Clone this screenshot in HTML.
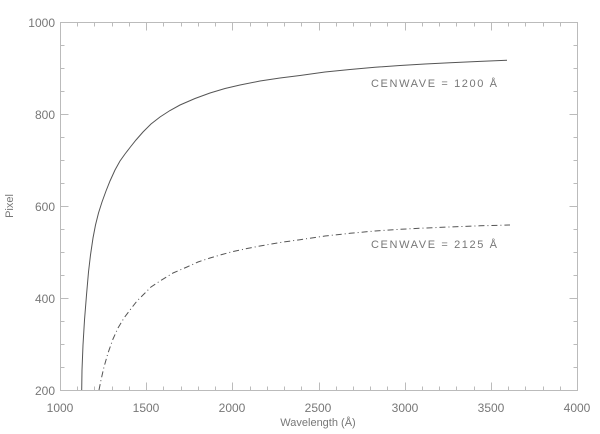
<!DOCTYPE html><html><head><style>body{margin:0;background:#fff}svg{display:block}text{font-family:"Liberation Sans",sans-serif;fill:#777}</style></head><body>
<svg width="600" height="434" viewBox="0 0 600 434">
<g stroke="#bbb" stroke-width="1" fill="none">
<rect x="60.5" y="22.5" width="517" height="368"/>
<path d="M60.5 22.5h8M60.5 114.5h8M60.5 206.5h8M60.5 298.5h8M60.5 390.5h8 M577.5 22.5h-8M577.5 114.5h-8M577.5 206.5h-8M577.5 298.5h-8M577.5 390.5h-8
M60.5 45.5h4M60.5 68.5h4M60.5 91.5h4M60.5 137.5h4M60.5 160.5h4M60.5 183.5h4M60.5 229.5h4M60.5 252.5h4M60.5 275.5h4M60.5 321.5h4M60.5 344.5h4M60.5 367.5h4
M577.5 45.5h-4M577.5 68.5h-4M577.5 91.5h-4M577.5 137.5h-4M577.5 160.5h-4M577.5 183.5h-4M577.5 229.5h-4M577.5 252.5h-4M577.5 275.5h-4M577.5 321.5h-4M577.5 344.5h-4M577.5 367.5h-4"/>
<path d="M146.5 390.5v-8M232.5 390.5v-8M319.5 390.5v-8M405.5 390.5v-8M491.5 390.5v-8
M146.5 22.5v8M232.5 22.5v8M319.5 22.5v8M405.5 22.5v8M491.5 22.5v8
M77.5 390.5v-4M94.5 390.5v-4M112.5 390.5v-4M129.5 390.5v-4M163.5 390.5v-4M181.5 390.5v-4M198.5 390.5v-4M215.5 390.5v-4M250.5 390.5v-4M267.5 390.5v-4M284.5 390.5v-4M301.5 390.5v-4M336.5 390.5v-4M353.5 390.5v-4M370.5 390.5v-4M387.5 390.5v-4M422.5 390.5v-4M439.5 390.5v-4M456.5 390.5v-4M474.5 390.5v-4M508.5 390.5v-4M525.5 390.5v-4M543.5 390.5v-4M560.5 390.5v-4
M77.5 22.5v4M94.5 22.5v4M112.5 22.5v4M129.5 22.5v4M163.5 22.5v4M181.5 22.5v4M198.5 22.5v4M215.5 22.5v4M250.5 22.5v4M267.5 22.5v4M284.5 22.5v4M301.5 22.5v4M336.5 22.5v4M353.5 22.5v4M370.5 22.5v4M387.5 22.5v4M422.5 22.5v4M439.5 22.5v4M456.5 22.5v4M474.5 22.5v4M508.5 22.5v4M525.5 22.5v4M543.5 22.5v4M560.5 22.5v4"/>
</g>
<polyline fill="none" stroke="#555" stroke-width="1" points="81.7,390 82,370 83,345 84.5,320 86.5,295 88.5,272 90.5,255 93,238 95.5,225 98.5,213 102,202 106,191 110,181 115,170 120,161 125,154 130,147.5 136,140 143,132 151,124 160,117 170,110.5 180,105 195,98.5 210,93 225,88.5 240,85 260,81 280,78 300,75.5 325,72 350,69.5 375,67.3 400,65.5 425,64 450,62.7 480,61.4 507,60.3"/>
<polyline fill="none" stroke="#555" stroke-width="1" stroke-dasharray="6,3,1,3" points="99,390 101,380 104,367 108,353 113,339 118,328 124,318 130,310 137,301 143,295 151,287 160,281 173,273 187,267 198,262 210,258 222,254.5 233,251.5 247,248.5 260,246 280,242.5 300,239.7 325,236 350,233.3 375,231 400,229.3 425,228 450,227 480,225.8 510,225"/>
<g font-size="12" text-anchor="end"><text x="55" y="27">1000</text><text x="55" y="119">800</text><text x="55" y="211">600</text><text x="55" y="303">400</text><text x="55" y="395">200</text></g>
<g font-size="12" text-anchor="middle"><text x="60" y="412">1000</text><text x="146" y="412">1500</text><text x="232" y="412">2000</text><text x="318" y="412">2500</text><text x="405" y="412">3000</text><text x="491" y="412">3500</text><text x="577" y="412">4000</text>
<text x="318" y="426" font-size="11">Wavelength (Å)</text>
<text transform="translate(13,206) rotate(-90)" font-size="11">Pixel</text></g>
<g font-size="11"><text x="371" y="87" textLength="126">CENWAVE = 1200 Å</text><text x="371" y="248" textLength="126">CENWAVE = 2125 Å</text></g>
</svg></body></html>
